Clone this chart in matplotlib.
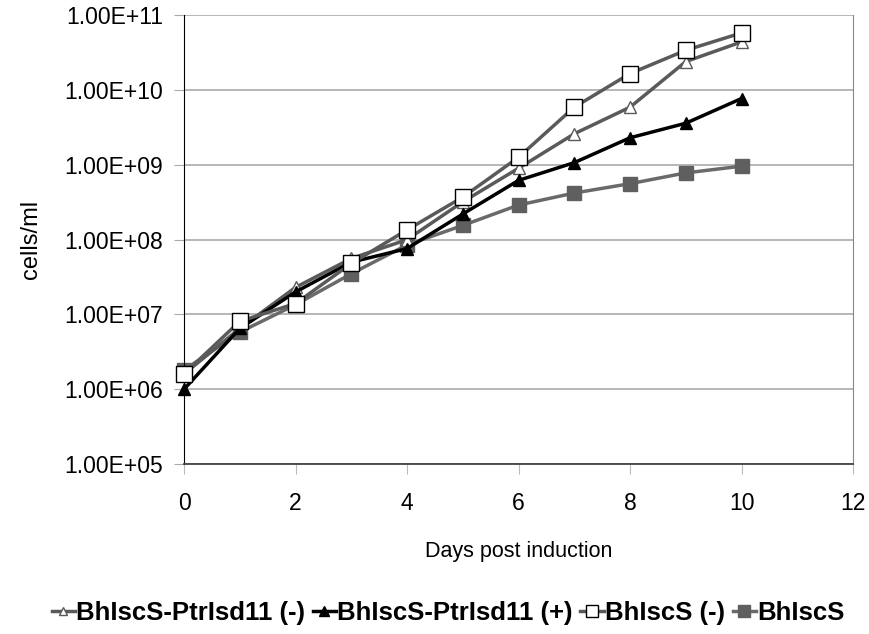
import numpy as np
import matplotlib
matplotlib.use("Agg")
import matplotlib.pyplot as plt
from matplotlib.ticker import FixedLocator, FuncFormatter

plt.rcParams['font.family'] = ['Liberation Sans', 'DejaVu Sans']

days = [0, 1, 2, 3, 4, 5, 6, 7, 8, 9, 10]

# cells/ml
ptr_minus = [1.6e6, 6.5e6, 2.3e7, 5.6e7, 1.0e8, 3.2e8, 9.0e8, 2.6e9, 5.9e9, 2.4e10, 4.4e10]
ptr_plus = [1.0e6, 6.5e6, 2.0e7, 5.0e7, 7.6e7, 2.2e8, 6.2e8, 1.07e9, 2.3e9, 3.6e9, 7.7e9]
iscs_minus = [1.6e6, 8.1e6, 1.4e7, 4.8e7, 1.35e8, 3.7e8, 1.26e9, 5.9e9, 1.66e10, 3.4e10, 5.8e10]
iscs = [1.8e6, 5.8e6, 1.35e7, 3.5e7, 8.5e7, 1.55e8, 2.9e8, 4.2e8, 5.6e8, 7.8e8, 9.6e8]

labels = ["BhIscS-PtrIsd11 (-)", "BhIscS-PtrIsd11 (+)", "BhIscS (-)", "BhIscS"]

fig = plt.figure(figsize=(8.7, 6.34), dpi=100)
ax = fig.add_axes([0.2115, 0.268, 0.769, 0.708])

gray = "#5a5a5a"
ax.plot(days, ptr_minus, color=gray, lw=2.5, marker="^", ms=8, mfc="white", mec=gray, mew=1, label=labels[0], zorder=3, clip_on=False)
ax.plot(days, ptr_plus, color="black", lw=2.5, marker="^", ms=9, mfc="black", mec="black", label=labels[1], zorder=4, clip_on=False)
ax.plot(days, iscs_minus, color=gray, lw=2.5, marker="s", ms=11, mfc="white", mec="black", mew=1, label=labels[2], zorder=5, clip_on=False)
ax.plot(days, iscs, color="#6a6a6a", lw=2.5, marker="s", ms=10, mfc="#5f5f5f", mec="#5f5f5f", label=labels[3], zorder=2, clip_on=False)

ax.set_yscale("log")
ax.set_ylim(1e5, 1e11)
ax.set_xlim(0, 12)
ax.yaxis.set_major_locator(FixedLocator([10.0 ** k for k in range(5, 12)]))
ax.yaxis.set_minor_locator(FixedLocator([]))
ax.yaxis.set_major_formatter(FuncFormatter(lambda v, p: "1.00E+%02d" % round(np.log10(v))))
ax.set_xticks(range(0, 13, 2))

ax.grid(axis="y", color="#aaaaaa", lw=1.2)
ax.set_axisbelow(True)
ax.spines["top"].set_visible(False)
ax.spines["right"].set_color("#888888")
ax.spines["left"].set_color("black")
ax.spines["bottom"].set_color("#444444")
ax.spines["bottom"].set_linewidth(1.3)
ax.tick_params(axis="y", length=7, color="#aaaaaa", labelsize=16.5, pad=8)
ax.tick_params(axis="x", length=7, color="#bbbbbb", labelsize=16.5, pad=13)

ax.set_xlabel("Days post induction", fontsize=15.5, labelpad=19)
ax.set_ylabel("cells/ml", fontsize=17, labelpad=16)

fig.legend(loc="lower center", bbox_to_anchor=(0.515, -0.022), ncol=4, frameon=False,
           prop={"weight": "bold", "size": 18.5}, handlelength=0.9, handletextpad=0.05,
           columnspacing=0.3, markerscale=0.8)

fig.savefig("out.png", dpi=100)
